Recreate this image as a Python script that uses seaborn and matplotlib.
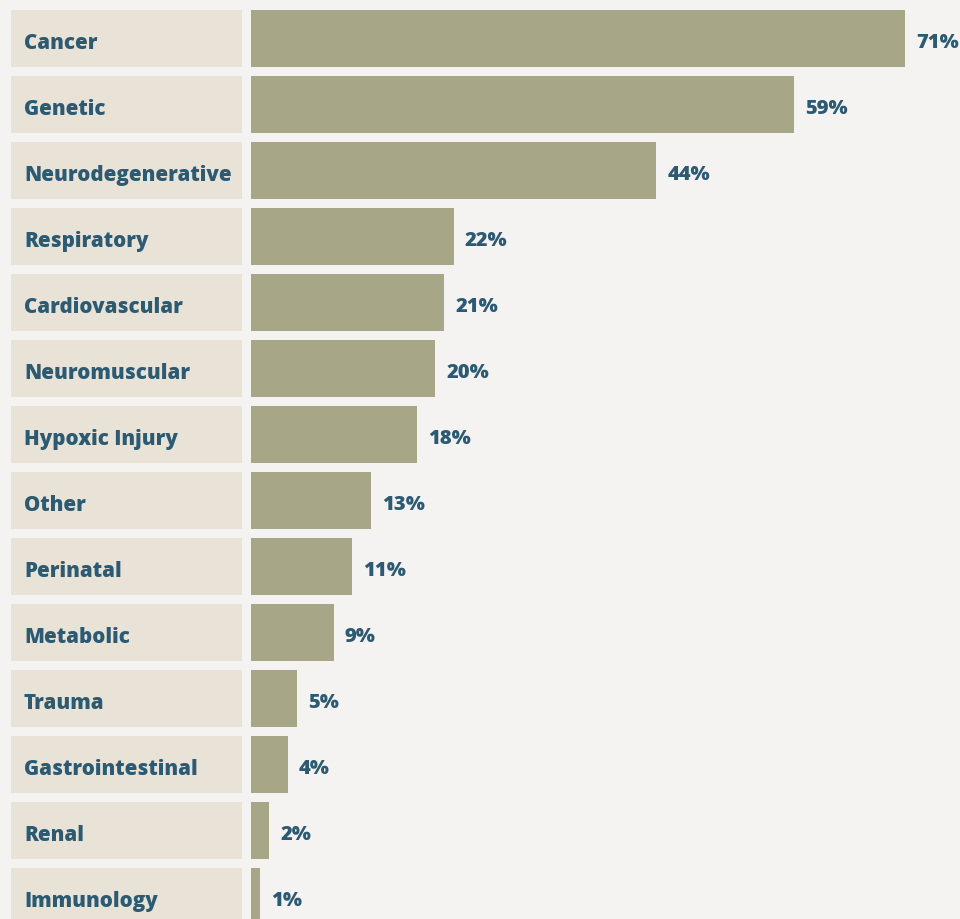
import matplotlib
matplotlib.use("Agg")
import matplotlib.pyplot as plt
import matplotlib.transforms as mtransforms
import seaborn as sns
import pandas as pd

categories = ["Cancer", "Genetic", "Neurodegenerative", "Respiratory", "Cardiovascular",
              "Neuromuscular", "Hypoxic Injury", "Other", "Perinatal", "Metabolic",
              "Trauma", "Gastrointestinal", "Renal", "Immunology"]
values = [71, 59, 44, 22, 21, 20, 18, 13, 11, 9, 5, 4, 2, 1]

BG = "#f4f3f1"
BOX = "#e9e3d7"
BAR = "#a7a686"
TEXT = "#2b5a72"
FS = 14.8
FS_VAL = 14.5

sns.set_theme(style="white")
plt.rcParams["font.family"] = ["Open Sans", "DejaVu Sans"]

df = pd.DataFrame({"category": categories, "value": values, "box": [1] * len(categories)})

W, H = 960, 920
fig = plt.figure(figsize=(W / 100, H / 100), dpi=100, facecolor=BG)

n = len(categories)
pitch = 66
top_px = 10.5 - (pitch - 57) / 2
ax_h = n * pitch
bottom_frac = (H - (top_px + ax_h)) / H
h_frac = ax_h / H
bar_w = 57 / pitch
text_dy = 0.025

# label boxes
ax_lab = fig.add_axes([11 / W, bottom_frac, 231 / W, h_frac])
sns.barplot(data=df, x="box", y="category", orient="h", color=BOX, width=bar_w,
            saturation=1, linewidth=0, ax=ax_lab)
ax_lab.set_xlim(0, 1)
ax_lab.set_ylim(n - 0.5, -0.5)
for i, c in enumerate(categories):
    ax_lab.text(13 / 231, i + text_dy, c, ha="left", va="center_baseline", color=TEXT,
                fontsize=FS, fontweight="heavy")

# value bars
ax = fig.add_axes([251 / W, bottom_frac, (W - 251) / W, h_frac])
sns.barplot(data=df, x="value", y="category", orient="h", color=BAR, width=bar_w,
            saturation=1, linewidth=0, ax=ax)
ax.set_xlim(0, 71 * (W - 251) / 654)
ax.set_ylim(n - 0.5, -0.5)
pad = mtransforms.offset_copy(ax.transData, fig=fig, x=11, y=0, units="dots")
for p, v in zip(ax.patches, values):
    ax.text(p.get_width(), p.get_y() + p.get_height() / 2 + text_dy, f"{v}%",
            transform=pad, ha="left", va="center_baseline", color=TEXT,
            fontsize=FS_VAL, fontweight="heavy")

for a in (ax_lab, ax):
    a.set_facecolor("none")
    a.set_axis_off()

fig.savefig("out.png", dpi=100, facecolor=BG)
